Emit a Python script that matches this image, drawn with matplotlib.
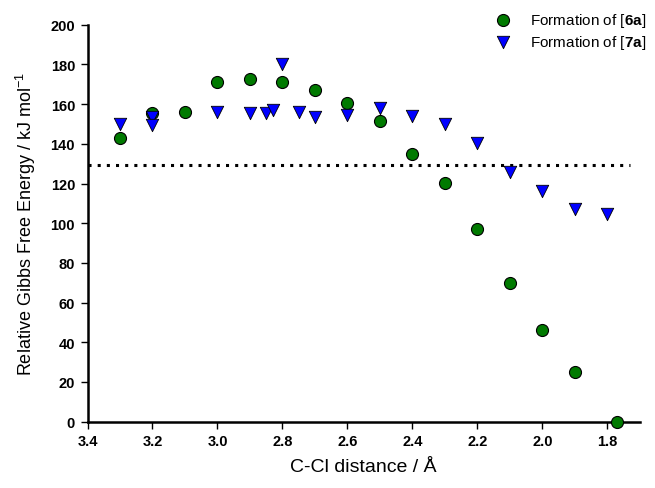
import matplotlib
matplotlib.use('Agg')
import matplotlib.pyplot as plt

plt.rcParams['font.family'] = ['Liberation Sans', 'DejaVu Sans']
plt.rcParams['mathtext.fontset'] = 'custom'
plt.rcParams['mathtext.rm'] = 'Liberation Sans'
plt.rcParams['mathtext.bf'] = 'Liberation Sans:bold'

# formation of [6a]
x_6a = [3.3, 3.2, 3.1, 3.0, 2.9, 2.8, 2.7, 2.6, 2.5, 2.4, 2.3, 2.2, 2.1, 2.0, 1.9, 1.77]
g_6a = [143.0, 155.5, 156.0, 171.0, 172.5, 171.0, 167.2, 160.4, 151.3, 134.7, 120.3, 97.0,
        69.7, 46.3, 25.2, 0.0]

# formation of [7a]
x_7a = [3.3, 3.2, 3.2, 3.0, 2.9, 2.85, 2.83, 2.8, 2.75, 2.7, 2.6, 2.5, 2.4, 2.3, 2.2,
        2.1, 2.0, 1.9, 1.8]
g_7a = [149.8, 153.7, 149.6, 156.0, 155.3, 155.3, 157.2, 180.0, 155.9, 153.6, 154.6, 158.0,
        154.2, 149.8, 140.2, 125.8, 116.1, 107.2, 104.5]

ref_level = 129.1
ref_xmax = 1.73

x_ticks = [3.4, 3.2, 3.0, 2.8, 2.6, 2.4, 2.2, 2.0, 1.8]
y_ticks = [0, 20, 40, 60, 80, 100, 120, 140, 160, 180, 200]

fig = plt.figure(figsize=(6.55, 4.89), dpi=100)
ax = fig.add_axes([0.1336, 0.1356, 0.8434, 0.8118])

ax.plot([3.4, ref_xmax], [ref_level, ref_level], color='black', lw=2.2,
        linestyle=(0, (1, 2)), zorder=1)

ax.scatter(x_6a, g_6a, s=75, marker='o', facecolor='#007a00', edgecolor='black',
           linewidth=0.8, label=r'Formation of [$\mathbf{6a}$]', zorder=3, clip_on=False)
ax.scatter(x_7a, g_7a, s=80, marker='v', facecolor='#0000ff', edgecolor='black',
           linewidth=0.6, label=r'Formation of [$\mathbf{7a}$]', zorder=3, clip_on=False)

ax.set_xlim(3.4, 1.70)
ax.set_ylim(0, 200)
ax.set_xticks(x_ticks)
ax.set_xticklabels(['%.1f' % v for v in x_ticks])
ax.set_yticks(y_ticks)

for s in ['top', 'right']:
    ax.spines[s].set_visible(False)
for s in ['left', 'bottom']:
    ax.spines[s].set_linewidth(1.8)

ax.tick_params(direction='out', length=5, width=1, labelsize=10.5, pad=4)
for lab in ax.get_xticklabels() + ax.get_yticklabels():
    lab.set_fontweight('bold')

ax.set_xlabel('C-Cl distance / Å', fontsize=14, labelpad=7)
ax.set_ylabel(r'Relative Gibbs Free Energy / kJ mol$^{-1}$', fontsize=13, labelpad=9)

ax.legend(loc='upper right', bbox_to_anchor=(0.996, 0.987), bbox_transform=fig.transFigure,
          frameon=False, fontsize=11, borderaxespad=0, handletextpad=0.8,
          labelspacing=0.25, scatterpoints=1)

fig.savefig('out.png', dpi=100)
